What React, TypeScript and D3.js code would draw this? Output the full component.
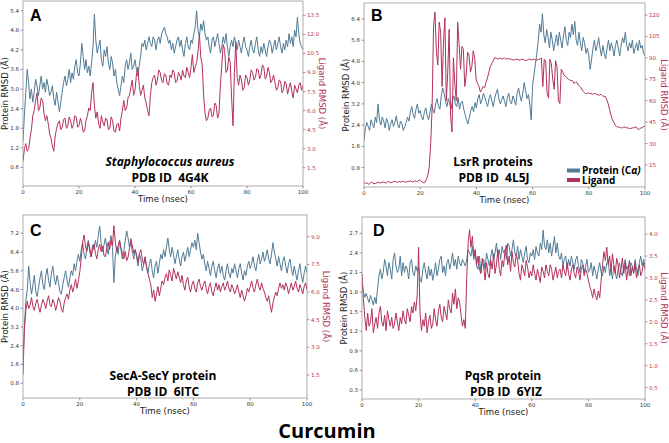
import React from "react";
import * as d3 from "d3";

// ---------- data (two per nanosecond, 0..100 ns) ----------
const TIME_TICKS = [0, 20, 40, 60, 80, 100];

const A_PROTEIN = [1.4, 2.2, 2.9, 3.6, 3.2, 2.7, 3.0, 2.6, 2.9, 3.3, 3.1, 2.8, 3.1, 3.4, 3.0, 3.2, 2.9, 3.3, 3.1, 2.8, 2.9, 3.1, 2.7, 2.5, 2.9, 2.6, 2.3, 2.6, 2.9, 3.2, 3.4, 3.1, 3.3, 3.6, 3.2, 3.5, 3.3, 3.7, 3.9, 3.5, 3.4, 3.8, 4.4, 4.0, 3.6, 3.9, 3.5, 3.7, 3.4, 3.8, 4.3, 5.3, 4.5, 4.1, 4.3, 4.5, 3.9, 3.7, 4.2, 4.0, 4.3, 3.8, 3.6, 4.0, 3.8, 3.4, 3.6, 3.2, 3.0, 2.8, 3.1, 3.4, 3.2, 3.7, 3.9, 3.6, 3.8, 4.1, 3.6, 3.7, 3.9, 3.6, 3.4, 3.7, 4.0, 4.4, 4.3, 4.5, 4.2, 4.4, 4.6, 4.4, 4.3, 4.6, 4.5, 4.2, 4.5, 4.6, 4.4, 4.7, 4.8, 4.9, 4.7, 4.6, 4.4, 4.5, 4.2, 4.4, 4.1, 4.3, 4.5, 4.6, 4.3, 4.5, 4.2, 4.0, 4.4, 4.6, 4.3, 4.2, 4.5, 4.4, 4.7, 4.9, 5.4, 4.8, 4.6, 5.0, 4.8, 5.1, 4.7, 4.5, 4.6, 4.3, 4.1, 4.5, 4.6, 4.3, 4.5, 4.7, 4.4, 4.1, 4.3, 4.6, 4.4, 4.7, 4.3, 4.0, 4.3, 4.5, 4.3, 4.6, 4.4, 4.2, 4.5, 4.3, 4.1, 4.4, 4.6, 4.3, 4.2, 4.0, 4.3, 4.5, 4.2, 4.1, 4.4, 4.6, 4.2, 4.0, 4.3, 4.1, 4.4, 4.2, 4.0, 4.3, 4.5, 4.4, 4.1, 4.3, 4.5, 4.2, 4.4, 4.6, 4.3, 4.1, 4.4, 4.2, 4.5, 4.3, 4.7, 4.4, 4.6, 4.3, 4.8, 4.6, 5.2, 4.7, 4.4, 4.3, 4.2];
const A_LIGAND = [2.0, 3.0, 3.4, 2.8, 3.0, 3.8, 4.5, 5.6, 6.0, 6.8, 7.4, 6.0, 6.2, 7.0, 6.8, 5.8, 5.2, 5.6, 5.0, 4.2, 3.8, 3.2, 2.8, 4.0, 4.6, 5.0, 5.2, 4.5, 4.7, 5.3, 5.4, 4.6, 4.8, 5.5, 5.2, 4.6, 4.9, 5.6, 5.5, 4.7, 4.8, 5.4, 5.0, 4.3, 4.4, 5.2, 5.6, 6.2, 6.0, 7.4, 8.2, 6.4, 5.4, 5.9, 5.0, 4.6, 5.6, 5.1, 4.8, 5.4, 5.3, 4.5, 4.6, 5.5, 5.2, 4.4, 4.3, 4.9, 5.0, 4.4, 5.4, 6.0, 6.8, 6.0, 6.2, 7.0, 7.2, 7.8, 8.4, 7.2, 7.6, 8.8, 9.4, 8.0, 7.2, 7.6, 8.0, 7.0, 6.6, 6.0, 5.6, 7.2, 8.2, 8.6, 8.8, 8.0, 8.4, 9.2, 9.0, 8.4, 8.2, 8.9, 8.8, 8.1, 8.0, 8.8, 8.6, 9.2, 9.0, 8.2, 8.3, 9.0, 8.8, 8.4, 9.2, 8.7, 8.6, 9.4, 9.0, 8.6, 9.4, 10.4, 9.0, 9.4, 9.8, 10.6, 12.0, 10.2, 9.6, 7.2, 5.8, 5.2, 5.4, 6.0, 6.2, 5.5, 5.6, 6.6, 6.4, 5.4, 5.8, 8.0, 9.6, 11.2, 10.8, 9.0, 9.2, 10.2, 9.8, 7.0, 4.8, 9.0, 11.4, 8.6, 8.0, 8.8, 8.4, 7.6, 7.8, 8.8, 8.6, 8.0, 8.4, 9.2, 9.0, 8.4, 8.6, 9.3, 9.2, 8.5, 8.8, 9.6, 9.4, 8.5, 8.7, 9.4, 9.0, 8.2, 8.4, 8.8, 8.2, 7.6, 7.8, 8.4, 8.3, 7.4, 7.6, 8.3, 8.1, 7.3, 7.8, 8.2, 7.5, 7.0, 8.0, 7.7, 7.4, 8.0, 8.2, 7.6, 8.0];

const B_PROTEIN = [1.8, 2.3, 2.5, 2.35, 2.2, 2.6, 2.45, 2.3, 2.7, 2.5, 3.2, 2.6, 2.4, 2.7, 2.55, 2.3, 2.65, 2.5, 2.2, 2.45, 2.6, 2.35, 2.5, 2.75, 2.4, 2.3, 2.55, 2.45, 2.2, 2.35, 2.5, 2.7, 2.55, 2.9, 3.1, 2.8, 2.65, 3.0, 3.2, 2.85, 2.95, 2.7, 2.6, 2.9, 3.05, 2.75, 2.6, 2.9, 3.2, 3.0, 2.85, 3.2, 3.4, 3.1, 3.0, 3.5, 3.8, 3.6, 3.3, 3.1, 3.4, 3.2, 3.0, 3.35, 3.5, 3.2, 3.1, 3.45, 3.0, 3.25, 3.3, 3.0, 2.8, 2.6, 2.45, 2.7, 2.95, 3.1, 2.9, 3.25, 3.05, 3.4, 3.55, 3.2, 3.35, 3.6, 3.45, 3.25, 3.1, 3.4, 3.55, 3.3, 3.1, 3.4, 3.6, 3.75, 3.4, 3.2, 3.35, 3.5, 3.3, 3.1, 3.45, 3.6, 3.3, 3.2, 3.5, 3.35, 3.15, 3.6, 3.8, 3.5, 3.3, 3.6, 4.0, 3.7, 3.4, 3.55, 3.2, 2.6, 3.9, 4.3, 4.7, 5.1, 5.6, 6.2, 5.9, 6.6, 5.8, 5.5, 6.0, 5.7, 5.3, 5.9, 5.6, 5.2, 5.5, 5.8, 5.4, 5.9, 5.6, 5.3, 5.8, 6.1, 5.6, 5.4, 5.9, 5.7, 6.2, 5.8, 6.3, 5.6, 5.4, 5.9, 5.5, 5.2, 5.7, 5.5, 5.1, 5.3, 5.0, 4.5, 4.9, 5.3, 5.6, 5.2, 5.4, 5.7, 5.3, 5.0, 5.4, 5.1, 4.9, 5.3, 5.6, 5.2, 5.5, 5.3, 5.0, 5.4, 5.6, 5.3, 5.0, 5.4, 5.7, 5.5, 5.9, 5.4, 5.2, 5.5, 5.3, 5.6, 5.1, 5.3, 5.5, 5.2, 5.6, 5.3, 5.4, 5.1, 5.0];
const B_LIGAND = [2, 2.5, 2.5, 1.5, 2, 3, 2.5, 2, 2, 2.5, 3, 2.5, 2.5, 3, 3, 2.5, 2.5, 3.5, 3, 2.5, 3, 3.5, 3.5, 3, 3, 3.5, 3, 3.5, 3.5, 3, 3, 3.5, 3.5, 4, 3, 3.5, 4, 3.5, 3.5, 4.5, 4, 3, 2.5, 3, 5, 8, 14, 30, 55, 112, 122, 95, 85, 115, 108, 70, 100, 118, 60, 80, 110, 50, 38, 90, 72, 60, 115, 100, 82, 98, 96, 70, 78, 94, 92, 80, 84, 95, 90, 75, 72, 70, 66, 68, 70, 69, 73, 76, 80, 84, 86, 88, 90, 90, 89, 89.5, 90, 89, 89.5, 90, 89, 89.5, 89.5, 89, 89, 88.5, 88.5, 89, 89, 88.5, 88.5, 89, 89, 88.5, 88, 88.5, 89, 89, 88.5, 89, 89, 88.5, 88.5, 89, 89, 90, 70, 89, 88, 65, 62, 89, 86, 75, 68, 88, 84, 60, 58, 82, 80, 78, 77, 76, 75, 74.5, 74, 74, 72, 73, 73, 71, 70, 69, 67, 66, 65, 65, 65.5, 65, 65, 64.5, 65, 65, 64.5, 64, 64, 64.5, 63.5, 63, 63, 61, 58, 54, 50, 47, 45, 43, 42, 41.5, 41.5, 41, 41, 41.5, 41.5, 41, 41, 40.5, 40.5, 41, 41, 41.5, 41.5, 40, 40, 41, 41, 42, 42];

const C_PROTEIN = [1.8, 3.2, 4.3, 4.8, 5.8, 5.1, 4.6, 5.0, 5.4, 4.7, 4.5, 4.9, 5.3, 5.6, 5.0, 4.8, 5.4, 5.7, 5.2, 4.9, 5.5, 5.8, 5.3, 5.0, 5.4, 5.1, 4.7, 4.6, 5.0, 5.3, 5.6, 5.2, 4.9, 5.3, 5.6, 5.4, 5.9, 5.6, 6.0, 6.3, 6.0, 6.5, 6.8, 6.3, 6.1, 6.6, 6.9, 6.4, 6.2, 6.7, 6.5, 6.9, 6.6, 7.1, 7.5, 6.8, 6.4, 6.7, 7.0, 6.6, 6.3, 6.8, 7.1, 6.6, 5.1, 6.2, 6.6, 6.3, 6.9, 6.5, 6.1, 6.4, 6.9, 7.3, 7.0, 6.6, 6.8, 6.4, 6.1, 6.5, 6.2, 5.8, 6.3, 6.1, 5.6, 5.9, 6.2, 5.7, 5.5, 5.9, 6.1, 5.6, 5.3, 5.8, 6.0, 5.5, 5.9, 6.3, 6.1, 6.5, 6.2, 6.6, 7.0, 6.5, 6.2, 6.6, 6.3, 5.9, 6.2, 6.5, 6.1, 5.8, 6.2, 6.4, 6.0, 6.3, 6.6, 6.2, 6.5, 6.8, 6.6, 6.9, 6.5, 7.2, 6.8, 6.4, 6.1, 6.3, 5.9, 5.6, 6.0, 5.7, 5.4, 5.8, 6.0, 5.6, 5.3, 5.7, 5.9, 5.5, 5.8, 5.4, 5.2, 5.6, 5.9, 5.5, 5.3, 5.7, 5.5, 5.9, 5.6, 5.3, 5.7, 5.9, 5.5, 5.2, 5.6, 5.4, 5.8, 6.0, 5.7, 5.9, 6.2, 5.8, 5.6, 6.0, 6.3, 5.9, 6.1, 6.4, 6.0, 6.2, 6.5, 6.1, 5.9, 6.3, 6.8, 6.4, 6.1, 5.8, 6.2, 5.9, 5.6, 6.0, 6.2, 5.8, 5.5, 5.9, 6.1, 5.7, 5.4, 5.8, 5.5, 5.2, 5.6, 5.9, 5.4, 5.1, 5.5, 5.8, 5.5];
const C_LIGAND = [1.5, 4.0, 5.0, 5.5, 5.1, 5.3, 5.7, 5.2, 5.0, 5.4, 5.6, 5.2, 4.9, 5.3, 5.6, 5.4, 5.1, 5.5, 5.8, 5.3, 5.2, 5.6, 5.4, 5.0, 5.3, 5.7, 5.5, 5.1, 4.9, 5.4, 5.7, 5.9, 5.6, 6.1, 6.4, 6.0, 6.3, 6.7, 6.2, 6.6, 7.1, 7.8, 8.7, 9.1, 8.5, 8.2, 8.7, 8.4, 7.9, 8.3, 8.6, 8.1, 7.8, 8.3, 8.6, 8.2, 8.5, 8.0, 7.9, 8.4, 8.7, 8.3, 8.8, 8.5, 9.6, 8.7, 8.2, 8.5, 8.8, 8.4, 8.1, 7.8, 8.2, 7.7, 7.9, 8.4, 8.9, 8.5, 8.1, 8.3, 8.0, 7.6, 8.1, 8.3, 7.8, 7.5, 7.9, 7.4, 7.0, 6.7, 6.4, 5.7, 6.1, 5.5, 5.9, 6.3, 5.8, 6.2, 6.6, 6.4, 6.8, 7.0, 6.6, 7.2, 6.9, 6.6, 7.3, 7.0, 6.7, 7.1, 6.8, 6.5, 6.9, 6.4, 6.1, 6.6, 6.8, 6.3, 6.0, 6.4, 6.6, 6.2, 6.0, 6.5, 6.7, 6.3, 6.1, 6.4, 6.6, 6.2, 5.9, 6.3, 6.5, 6.0, 5.8, 6.2, 6.5, 6.1, 6.4, 6.0, 6.3, 6.5, 6.1, 6.3, 6.6, 6.2, 6.0, 6.4, 6.2, 5.9, 6.1, 6.4, 6.0, 5.7, 6.1, 5.8, 5.5, 5.8, 6.2, 6.0, 6.3, 6.6, 6.2, 6.0, 6.4, 6.7, 6.3, 6.1, 6.5, 6.2, 6.0, 5.7, 5.5, 5.8, 5.3, 4.9, 5.4, 5.7, 6.0, 5.8, 6.2, 6.5, 6.2, 6.4, 6.1, 6.5, 6.3, 5.9, 6.2, 6.5, 6.1, 6.3, 6.6, 6.2, 6.0, 6.4, 6.2, 5.9, 6.3, 6.5, 6.1];

const D_PROTEIN = [1.95, 1.8, 1.72, 1.78, 1.7, 1.64, 1.75, 1.68, 1.6, 1.72, 1.62, 1.85, 2.05, 2.15, 2.0, 2.1, 2.3, 2.2, 2.05, 2.25, 2.15, 2.0, 2.3, 2.4, 2.2, 2.1, 2.15, 2.35, 2.05, 2.25, 2.1, 2.2, 2.15, 2.0, 2.25, 2.3, 2.1, 2.05, 2.2, 2.12, 2.18, 2.0, 1.95, 2.15, 2.25, 2.1, 2.0, 2.2, 2.05, 2.15, 1.98, 2.1, 2.25, 2.05, 2.15, 2.3, 2.35, 2.1, 2.2, 2.05, 2.25, 2.3, 2.15, 2.25, 2.4, 2.2, 2.3, 2.15, 2.35, 2.25, 2.2, 2.3, 2.25, 2.2, 2.3, 2.45, 2.4, 2.35, 2.5, 2.3, 2.4, 2.2, 2.15, 2.35, 2.1, 2.25, 2.3, 2.15, 2.4, 2.3, 2.2, 2.35, 2.45, 2.3, 2.4, 2.55, 2.35, 2.45, 2.3, 2.5, 2.4, 2.45, 2.3, 2.55, 2.5, 2.35, 2.45, 2.6, 2.4, 2.35, 2.5, 2.3, 2.45, 2.35, 2.25, 2.4, 2.5, 2.3, 2.25, 2.4, 2.35, 2.45, 2.3, 2.5, 2.4, 2.35, 2.55, 2.45, 2.75, 2.5, 2.45, 2.6, 2.4, 2.55, 2.35, 2.5, 2.65, 2.4, 2.55, 2.35, 2.3, 2.4, 2.2, 2.3, 2.35, 2.15, 2.3, 2.2, 2.35, 2.25, 2.15, 2.3, 2.35, 2.2, 2.1, 2.3, 2.25, 2.1, 2.2, 2.3, 2.1, 2.15, 2.25, 2.05, 2.2, 2.1, 2.0, 2.15, 2.25, 2.1, 2.05, 2.2, 2.1, 2.25, 2.3, 2.05, 2.15, 2.0, 2.2, 2.1, 2.0, 2.15, 2.25, 2.1, 2.05, 2.2, 2.3, 2.15, 2.2, 2.05, 2.25, 2.2, 2.1, 2.3, 2.15, 2.05, 2.25, 2.35, 2.2, 2.3, 2.2];
const D_LIGAND = [3.1, 2.5, 2.1, 1.8, 2.2, 1.9, 2.0, 2.3, 1.75, 1.95, 2.1, 1.85, 2.2, 2.35, 2.0, 1.9, 2.15, 1.8, 2.25, 2.05, 1.9, 2.1, 1.85, 1.95, 2.2, 2.0, 1.8, 2.1, 1.95, 2.25, 2.05, 1.95, 2.3, 2.15, 2.0, 2.35, 2.2, 2.45, 2.25, 2.6, 3.7, 2.2, 1.8, 2.05, 1.9, 2.2, 1.75, 2.0, 2.15, 1.85, 1.95, 2.3, 2.05, 1.9, 2.25, 2.4, 2.1, 2.0, 2.35, 2.2, 2.05, 2.5, 2.3, 2.2, 2.65, 2.4, 2.75, 2.3, 2.55, 2.45, 2.15, 1.9, 2.05, 1.85, 3.0, 3.8, 4.1, 3.7, 3.95, 3.5, 3.65, 3.3, 3.5, 3.2, 3.1, 3.45, 3.25, 2.95, 3.35, 3.1, 3.0, 3.4, 3.2, 3.55, 3.1, 3.3, 3.65, 3.2, 3.05, 3.4, 3.25, 3.6, 3.75, 3.3, 3.5, 3.15, 3.6, 3.35, 3.25, 3.55, 3.4, 3.1, 2.95, 3.3, 3.2, 3.05, 3.4, 3.25, 3.0, 3.15, 3.05, 3.3, 3.1, 2.95, 3.2, 3.05, 2.9, 3.25, 3.15, 3.0, 3.3, 3.15, 3.05, 3.3, 3.2, 2.95, 3.1, 3.25, 3.0, 3.15, 3.2, 3.0, 3.3, 3.15, 3.05, 3.35, 3.1, 2.95, 3.2, 3.3, 3.1, 3.0, 3.25, 3.15, 2.95, 3.2, 3.3, 3.05, 3.2, 3.1, 2.95, 2.8, 2.7, 2.55, 2.75, 2.6, 2.5, 2.7, 2.55, 2.95, 3.3, 3.6, 3.4, 3.7, 3.3, 3.5, 3.15, 3.55, 3.3, 3.1, 3.45, 3.3, 3.0, 3.2, 3.45, 3.1, 3.35, 2.95, 3.2, 3.4, 3.05, 3.25, 3.1, 3.35, 3.0, 3.2, 3.3, 3.05, 3.15, 3.35, 3.2];

const A_P_TICKS = [0.6, 1.2, 1.8, 2.4, 3.0, 3.6, 4.2, 4.8, 5.4];
const A_L_TICKS = [1.5, 3.0, 4.5, 6.0, 7.5, 9.0, 10.5, 12.0, 13.5];
const B_P_TICKS = [0.8, 1.6, 2.4, 3.2, 4.0, 4.8, 5.6, 6.4];
const B_L_TICKS = [15, 30, 45, 60, 75, 90, 105, 120];
const C_P_TICKS = [0.8, 1.6, 2.4, 3.2, 4.0, 4.8, 5.6, 6.4, 7.2];
const C_L_TICKS = [1.5, 3.0, 4.5, 6.0, 7.5, 9.0];
const D_P_TICKS = [0.3, 0.6, 0.9, 1.2, 1.5, 1.8, 2.1, 2.4, 2.7];
const D_L_TICKS = [0.5, 1.0, 1.5, 2.0, 2.5, 3.0, 3.5, 4.0];

const LETTERS = ["A", "B", "C", "D"];
const NAMES = ["Staphylococcus aureus", "LsrR proteins", "SecA-SecY protein", "PqsR protein"];
const PDB_IDS = ["PDB ID  4G4K", "PDB ID  4L5J", "PDB ID  6ITC", "PDB ID  6YIZ"];
const LEGEND_LABELS = ["Protein (C", "Ligand"];

// ---------- styling / layout ----------
const PROTEIN_COLOR = "#4f7b95";
const LIGAND_COLOR = "#b3315c";
const FRAME_COLOR = "#9a9a9a";
const TICK_FONT = "DejaVu Sans, sans-serif";
const ANNOT_FONT = "'Open Sans', sans-serif";

type PanelDef = {
  letter: string;
  name: string;
  pdb: string;
  italic: boolean;
  x0: number; x1: number; y0: number; y1: number;
  pDom: [number, number];
  lDom: [number, number];
  pTicks: number[];
  lTicks: number[];
  lFmt: (v: number) => string;
  protein: number[];
  ligand: number[];
  nameX: number; nameY: number; pdbX: number; pdbY: number;
  letterX: number; letterY: number;
  legend?: boolean;
};

const f1 = (v: number) => v.toFixed(1);
const f0 = (v: number) => String(v);

const PANELS: PanelDef[] = [
  {
    letter: LETTERS[0], name: NAMES[0], pdb: PDB_IDS[0], italic: true,
    x0: 23, x1: 303, y0: 1, y1: 186, pDom: [0.027, 5.7], lDom: [0.06, 14.63],
    pTicks: A_P_TICKS, lTicks: A_L_TICKS, lFmt: f1, protein: A_PROTEIN, ligand: A_LIGAND,
    nameX: 170, nameY: 165.5, pdbX: 170, pdbY: 182, letterX: 30, letterY: 20.5,
  },
  {
    letter: LETTERS[1], name: NAMES[1], pdb: PDB_IDS[1], italic: false,
    x0: 364, x1: 645, y0: 3, y1: 187, pDom: [0.07, 7.0], lDom: [-0.4, 128.4],
    pTicks: B_P_TICKS, lTicks: B_L_TICKS, lFmt: f0, protein: B_PROTEIN, ligand: B_LIGAND,
    nameX: 493, nameY: 165.5, pdbX: 494, pdbY: 182, letterX: 371, letterY: 20.5, legend: true,
  },
  {
    letter: LETTERS[2], name: NAMES[2], pdb: PDB_IDS[2], italic: false,
    x0: 23, x1: 307, y0: 215, y1: 398, pDom: [0.17, 7.98], lDom: [0.25, 10.18],
    pTicks: C_P_TICKS, lTicks: C_L_TICKS, lFmt: f1, protein: C_PROTEIN, ligand: C_LIGAND,
    nameX: 163, nameY: 379.5, pdbX: 163, pdbY: 396, letterX: 30, letterY: 236,
  },
  {
    letter: LETTERS[3], name: NAMES[3], pdb: PDB_IDS[3], italic: false,
    x0: 362, x1: 645, y0: 217, y1: 399, pDom: [0.162, 2.95], lDom: [0.24, 4.39],
    pTicks: D_P_TICKS, lTicks: D_L_TICKS, lFmt: f1, protein: D_PROTEIN, ligand: D_LIGAND,
    nameX: 503, nameY: 379.5, pdbX: 506, pdbY: 396, letterX: 373, letterY: 236,
  },
];

function Panel({ p }: { p: PanelDef }) {
  const x = d3.scaleLinear().domain([0, 100]).range([p.x0, p.x1]);
  const yp = d3.scaleLinear().domain(p.pDom).range([p.y1, p.y0]);
  const yl = d3.scaleLinear().domain(p.lDom).range([p.y1, p.y0]);
  const tOf = (n: number) => (i: number) => (i * 100) / (n - 1);
  const tp = tOf(p.protein.length);
  const tl = tOf(p.ligand.length);
  const lineP = d3.line<number>().x((_, i) => x(tp(i))).y((v) => yp(v));
  const lineL = d3.line<number>().x((_, i) => x(tl(i))).y((v) => yl(v));
  const midY = (p.y0 + p.y1) / 2;
  const clipId = `clip-${p.letter}`;
  return (
    <g>
      <defs>
        <clipPath id={clipId}>
          <rect x={p.x0} y={p.y0} width={p.x1 - p.x0} height={p.y1 - p.y0} />
        </clipPath>
      </defs>
      <g clipPath={`url(#${clipId})`}>
        <path d={lineP(p.protein) || ""} fill="none" stroke={PROTEIN_COLOR} strokeWidth={1} strokeLinejoin="round" />
        <path d={lineL(p.ligand) || ""} fill="none" stroke={LIGAND_COLOR} strokeWidth={1} strokeLinejoin="round" />
      </g>
      <rect x={p.x0} y={p.y0} width={p.x1 - p.x0} height={p.y1 - p.y0} fill="none" stroke={FRAME_COLOR} strokeWidth={0.8} />
      {TIME_TICKS.map((t) => (
        <g key={`xt${t}`}>
          <line x1={x(t)} x2={x(t)} y1={p.y1} y2={p.y1 + 2.5} stroke="#555" strokeWidth={0.6} />
          <text x={x(t)} y={p.y1 + 8} fontSize={5.5} textAnchor="middle" fill="#333" fontFamily={TICK_FONT}>{t}</text>
        </g>
      ))}
      <text x={(p.x0 + p.x1) / 2} y={p.y1 + 16} fontSize={8.5} textAnchor="middle" fill="#222" fontFamily={TICK_FONT}>Time (nsec)</text>
      {p.pTicks.map((t) => (
        <g key={`pt${t}`}>
          <line x1={p.x0 - 2.5} x2={p.x0} y1={yp(t)} y2={yp(t)} stroke="#555" strokeWidth={0.6} />
          <text x={p.x0 - 4} y={yp(t) + 2} fontSize={5.5} textAnchor="end" fill="#333" fontFamily={TICK_FONT}>{t.toFixed(1)}</text>
        </g>
      ))}
      <text transform={`translate(${p.x0 - 15},${midY}) rotate(-90)`} fontSize={8.5} textAnchor="middle" fill="#222" fontFamily={TICK_FONT}>Protein RMSD (Å)</text>
      {p.lTicks.map((t) => (
        <g key={`lt${t}`}>
          <line x1={p.x1} x2={p.x1 + 2.5} y1={yl(t)} y2={yl(t)} stroke={LIGAND_COLOR} strokeWidth={0.6} />
          <text x={p.x1 + 4} y={yl(t) + 2} fontSize={5.5} textAnchor="start" fill={LIGAND_COLOR} fontFamily={TICK_FONT}>{p.lFmt(t)}</text>
        </g>
      ))}
      <text transform={`translate(${p.x1 + 16},${midY}) rotate(90)`} fontSize={8.5} textAnchor="middle" fill={LIGAND_COLOR} fontFamily={TICK_FONT}>Ligand RMSD (Å)</text>
      <text x={p.letterX} y={p.letterY} fontSize={16} fontWeight={700} fontFamily="'Liberation Sans', Arial, sans-serif" fill="#000">{p.letter}</text>
      <text x={p.nameX} y={p.nameY} fontSize={12} fontWeight={700} fontStyle={p.italic ? "italic" : "normal"} textAnchor="middle" fontFamily={ANNOT_FONT} fill="#000">{p.name}</text>
      <text x={p.pdbX} y={p.pdbY} fontSize={12} fontWeight={700} textAnchor="middle" fontFamily={ANNOT_FONT} fill="#000" style={{ whiteSpace: "pre" }}>{p.pdb}</text>
      {p.legend && (
        <g>
          <rect x={567} y={168.5} width={13} height={4} fill={PROTEIN_COLOR} />
          <rect x={567} y={178} width={13} height={4} fill={LIGAND_COLOR} />
          <text fontSize={10} fontWeight={700} fontFamily={ANNOT_FONT} fill="#000">
            <tspan x={582} y={174}>{LEGEND_LABELS[0]}<tspan fontStyle="italic">α)</tspan></tspan>
            <tspan x={582} y={183.5}>{LEGEND_LABELS[1]}</tspan>
          </text>
        </g>
      )}
    </g>
  );
}

export default function App() {
  return (
    <div style={{ position: "absolute", left: 0, top: 0 }}>
      <svg width={669} height={443} viewBox="0 0 669 443" style={{ display: "block", background: "#fff" }}>
        <rect width={669} height={443} fill="#fff" />
        {PANELS.map((p) => (
          <Panel key={p.letter} p={p} />
        ))}
        <text x={327} y={438} fontSize={20} fontWeight={700} textAnchor="middle" fontFamily={ANNOT_FONT} fill="#000">Curcumin</text>
      </svg>
    </div>
  );
}
